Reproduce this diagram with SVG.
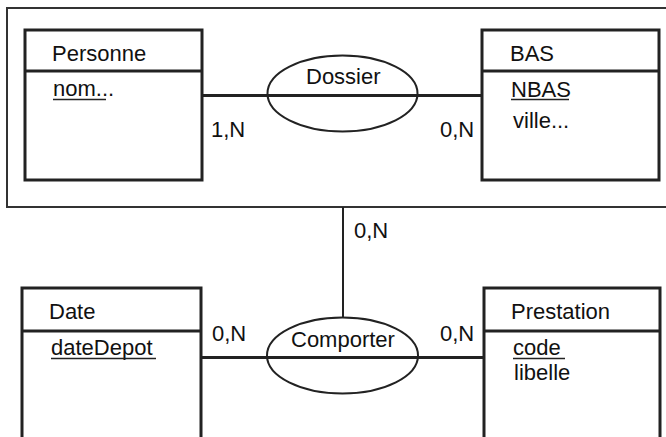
<svg xmlns="http://www.w3.org/2000/svg" width="666" height="437" viewBox="0 0 666 437">
<style>
text{font-family:"Liberation Sans",Arial,sans-serif;font-size:22px;fill:#111}
.box{fill:none;stroke:#222;stroke-width:3}
.rel{fill:none;stroke:#222;stroke-width:2}
.ln{stroke:#222;stroke-width:3;fill:none}
.ul{stroke:#222;stroke-width:1.3}
</style>
<rect width="666" height="437" fill="#fff"/>
<rect x="7" y="8" width="670" height="199" fill="none" stroke="#333" stroke-width="2"/>
<g id="connectors">
<line class="ln" x1="202" y1="95.5" x2="482" y2="95.5"/>
<line class="ln" x1="201" y1="357.5" x2="484" y2="357.5"/>
<line x1="343" y1="207" x2="343" y2="317" stroke="#222" stroke-width="2"/>
<text x="211" y="137">1,N</text>
<text x="440" y="137">0,N</text>
<text x="354" y="238">0,N</text>
<text x="212" y="341">0,N</text>
<text x="440" y="341">0,N</text>
</g>
<g id="personne">
<rect class="box" x="25" y="30" width="177" height="150"/>
<line class="box" x1="25" y1="71" x2="202" y2="71"/>
<text x="52" y="61">Personne</text>
<text x="53" y="96">nom...</text>
<line class="ul" x1="53" y1="99.5" x2="106" y2="99.5"/>
</g>
<g id="bas">
<rect class="box" x="482" y="30" width="177" height="150"/>
<line class="box" x1="482" y1="71" x2="659" y2="71"/>
<text x="510" y="61">BAS</text>
<text x="511" y="97">NBAS</text>
<line class="ul" x1="511" y1="99.5" x2="569" y2="99.5"/>
<text x="513" y="128">ville...</text>
</g>
<g id="dossier">
<ellipse class="rel" cx="342.5" cy="93.5" rx="75" ry="38"/>
<text x="306" y="84">Dossier</text>
</g>
<g id="date">
<rect class="box" x="22" y="288" width="179" height="160"/>
<line class="box" x1="22" y1="331" x2="201" y2="331"/>
<text x="49" y="319">Date</text>
<text x="51" y="355">dateDepot</text>
<line class="ul" x1="51" y1="358.5" x2="156" y2="358.5"/>
</g>
<g id="comporter">
<ellipse class="rel" cx="342.5" cy="355.5" rx="75.5" ry="38"/>
<text x="291" y="347">Comporter</text>
</g>
<g id="prestation">
<rect class="box" x="484" y="288" width="176" height="160"/>
<line class="box" x1="484" y1="331" x2="660" y2="331"/>
<text x="511" y="319">Prestation</text>
<text x="513" y="355">code</text>
<line class="ul" x1="513" y1="358.5" x2="565" y2="358.5"/>
<text x="514" y="380">libelle</text>
</g>
</svg>
